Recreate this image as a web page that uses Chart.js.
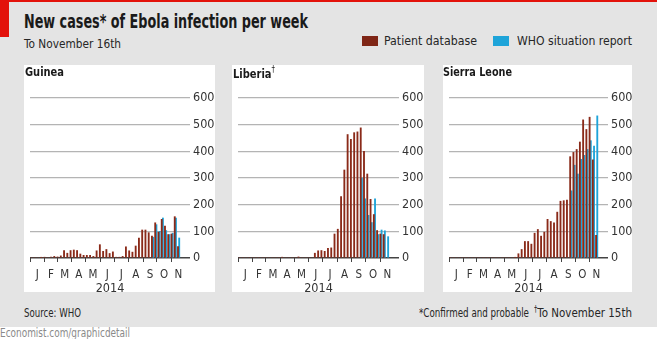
<!DOCTYPE html>
<html>
<head>
<meta charset="utf-8">
<script src="https://cdn.jsdelivr.net/npm/chart.js@4/dist/chart.umd.min.js"></script>
<style>
  body { margin: 0; width: 657px; height: 339px; background: #fff; overflow: hidden; position: relative;
         font-family: "Liberation Sans Narrow", "DejaVu Sans Condensed", "Roboto Condensed", Arial, sans-serif; color: #1a1a1a; }
  .abs { position: absolute; white-space: nowrap; }
  .fit { transform-origin: 0 0; }
  #bg { left: 0; top: 0; width: 657px; height: 327px; background: #e4e4e4; }
  #redline { left: 0; top: 0; width: 657px; height: 2px; background: #e3120b; }
  #redtab { left: 0; top: 0; width: 9px; height: 37px; background: #e3120b; }
  #title { left: 24px; top: 10px; font-size: 19px; font-weight: bold; }
  #subtitle { left: 24px; top: 36px; font-size: 13px; color: #262626; }
  .sw { top: 36px; width: 16px; height: 10px; }
  .leg { top: 33px; font-size: 13px; color: #262626; }
  .panel { top: 65px; height: 227px; background: #fff; }
  .ptitle { top: 64px; font-size: 13px; font-weight: bold; }
  .foot { top: 305px; font-size: 12.5px; color: #262626; }
  #credit { left: 0; top: 325px; font-size: 12.5px; color: #8a8a8a; }
  canvas { position: absolute; top: 65px; }
</style>
</head>
<body>
<div id="bg" class="abs"></div>
<div id="redline" class="abs"></div>
<div id="redtab" class="abs"></div>
<div id="title" class="abs fit" data-w="284">New cases* of Ebola infection per week</div>
<div id="subtitle" class="abs fit" data-w="97">To November 16th</div>
<div class="abs sw" style="left:362px;background:#7f2616"></div>
<div class="abs leg fit" data-w="93" style="left:384px">Patient database</div>
<div class="abs sw" style="left:493px;background:#1ea4d9"></div>
<div class="abs leg fit" data-w="115" style="left:517px">WHO situation report</div>

<div class="abs panel" style="left:24px;width:191px"></div>
<div class="abs panel" style="left:232px;width:192px"></div>
<div class="abs panel" style="left:443px;width:189px"></div>

<canvas id="guinea" width="191" height="227" style="left:24px"></canvas>
<canvas id="liberia" width="192" height="227" style="left:232px"></canvas>
<canvas id="sierra" width="189" height="227" style="left:443px"></canvas>

<div class="abs ptitle fit" data-w="39" style="left:25px">Guinea</div>
<div class="abs ptitle fit" data-w="42" style="left:233px">Liberia<sup style="font-size:9px;font-weight:normal;vertical-align:6px">†</sup></div>
<div class="abs ptitle fit" data-w="69" style="left:443px">Sierra Leone</div>

<div class="abs foot fit" data-w="57" style="left:24px">Source: WHO</div>
<div class="abs foot fit" data-w="110" style="left:419px">*Confirmed and probable</div>
<div class="abs foot fit" data-w="98" style="left:534px"><sup style="font-size:8px;vertical-align:5px">†</sup>To November 15th</div>
<div id="credit" class="abs fit" data-w="130">Economist.com/graphicdetail</div>

<script>
// week ending (Sundays, 2014)
const weekEnding = ["01-05","01-12","01-19","01-26","02-02","02-09","02-16","02-23",
  "03-02","03-09","03-16","03-23","03-30","04-06","04-13","04-20","04-27",
  "05-04","05-11","05-18","05-25","06-01","06-08","06-15","06-22","06-29",
  "07-06","07-13","07-20","07-27","08-03","08-10","08-17","08-24","08-31",
  "09-07","09-14","09-21","09-28","10-05","10-12","10-19","10-26","11-02","11-09","11-16"];
const monthLetters = ["J","F","M","A","M","J","J","A","S","O","N"];
const yTicks = [0, 100, 200, 300, 400, 500, 600];

const guineaPatient = [0,0,0,2,3,0,3,6,4,8, 28,18,28,30,28,15,10,10,10,6,
  27,50,25,32,17,23,3,3,6,42, 27,22,45,75,105,105,95,82,132,97, 145,120,88,90,155,43];
const guineaWHO = [null,null,null,null,null,null,null,null,null,null,null,null,null,null,null,null,null,null,null,null,
  null,null,null,null,null,null,null,null,null,null,null,null,null,null,null,null,null,
  78,125,100,150,103,88,93,150,75];

const liberiaPatient = [0,0,0,0,0,0,0,0,0,0, 0,0,0,3,0,0,0,0,4,0,
  0,0,0,18,27,28,25,36,38,90, 108,230,330,463,445,470,473,488,400,315, 220,163,103,90,88,null];
const liberiaWHO = [null,null,null,null,null,null,null,null,null,null,null,null,null,null,null,null,null,null,null,null,
  null,null,null,null,null,null,null,null,null,null,null,null,null,null,null,null,null,
  300,222,160,133,222,88,105,102,80];

const sierraPatient = [0,0,0,0,0,0,0,0,0,0, 0,0,0,0,0,0,0,0,0,0,
  2,16,32,62,62,52,93,107,82,97, 145,137,132,172,213,215,217,380,396,407, 435,518,482,528,368,85];
const sierraWHO = [null,null,null,null,null,null,null,null,null,null,null,null,null,null,null,null,null,null,null,null,
  null,null,null,null,null,null,null,null,null,null,null,null,null,null,null,null,null,
  252,348,315,370,385,407,440,420,533];

const brown = "#8a2a19";
const blue = "#1ea4d9";
const FONT = '"Liberation Sans Narrow", "DejaVu Sans Condensed", "Roboto Condensed", Arial, sans-serif';

// squeeze html labels to the widths they have in the picture
document.querySelectorAll(".fit").forEach(el => {
  let w = el.getBoundingClientRect().width;
  el.style.transform = "scaleX(" + (el.dataset.w / w) + ")";
});

const day0 = Date.UTC(2014, 0, 1);
function dayOfYear(s) {
  let [m, d] = s.split("-").map(Number);
  return (Date.UTC(2014, m - 1, d) - day0) / 864e5;
}
const weekX = weekEnding.map(s => dayOfYear(s) + 0.5);
const monthStart = monthLetters.map((_, i) => (Date.UTC(2014, i, 1) - day0) / 864e5);
const monthMid = monthLetters.map((_, i) => (monthStart[i] + (Date.UTC(2014, i + 1, 1) - day0) / 864e5) / 2);

function makeChart(id, patient, who, padLeft) {
  let canvas = document.getElementById(id);
  let plotRight = padLeft + 165;
  let yWidth = canvas.width - plotRight;
  let labels = {};
  monthMid.forEach((v, i) => labels[v] = monthLetters[i]);

  return new Chart(canvas, {
    type: "bar",
    data: {
      datasets: [
        { label: "Patient database", data: patient.map((v, i) => ({ x: weekX[i], y: v })),
          backgroundColor: brown, barThickness: 1.2 },
        { label: "WHO situation report", data: who.map((v, i) => ({ x: weekX[i], y: v })),
          backgroundColor: blue, barThickness: 1.2 }
      ]
    },
    options: {
      responsive: false, animation: false, devicePixelRatio: 1,
      layout: { padding: { left: padLeft, top: 33, right: 0, bottom: 0 } },
      plugins: { legend: { display: false }, tooltip: { enabled: false } },
      scales: {
        x: {
          type: "linear", min: 0, max: 344, offset: false,
          afterFit: s => { s.height = 34; },
          afterBuildTicks: s => {
            s.ticks = monthStart.concat(monthMid).sort((a, b) => a - b).map(v => ({ value: v }));
          },
          ticks: { autoSkip: false, maxRotation: 0, padding: 6, color: "#333",
                   font: { family: FONT, size: 11.5 },
                   callback: v => labels[v] || "" },
          grid: { offset: false, drawOnChartArea: false, tickLength: 4, tickWidth: 1,
                  tickColor: c => (c.tick && monthStart.includes(c.tick.value)) ? "#444" : "rgba(0,0,0,0)" },
          border: { display: false },
          title: { display: true, text: "2014", color: "#333", padding: 0,
                   font: { family: FONT, size: 12.5, lineHeight: 0.5 } }
        },
        y: {
          position: "right", min: 0, max: 600,
          afterFit: s => { s.width = yWidth; },
          afterBuildTicks: s => { s.ticks = yTicks.map(v => ({ value: v })); },
          ticks: { padding: 3, color: "#333", font: { family: FONT, size: 12.5 } },
          grid: { drawTicks: false,
                  color: c => c.tick && c.tick.value === 0 ? "#444" : "#b4b4b4",
                  lineWidth: c => c.tick && c.tick.value === 0 ? 1.5 : 1.3 },
          border: { display: false }
        }
      }
    }
  });
}

makeChart("guinea", guineaPatient, guineaWHO, 1);
makeChart("liberia", liberiaPatient, liberiaWHO, 2);
makeChart("sierra", sierraPatient, sierraWHO, 0);
</script>
</body>
</html>
